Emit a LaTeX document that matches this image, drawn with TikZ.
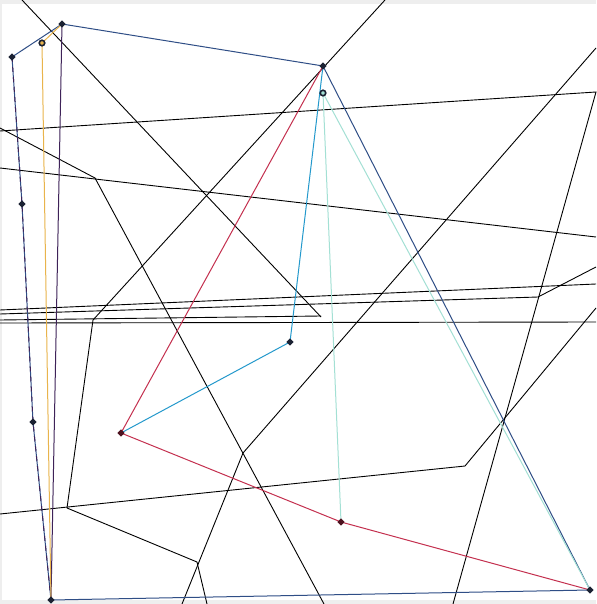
\documentclass[tikz,border=0pt]{standalone}
\usepackage{xcolor}
\usepackage{tikz}
\usetikzlibrary{shapes.geometric}
\definecolor{navy1}{HTML}{2F4E86}
\definecolor{purple1}{HTML}{3E2258}
\definecolor{gold1}{HTML}{E9B44C}
\definecolor{red1}{HTML}{C4304F}
\definecolor{cyan1}{HTML}{2499CC}
\definecolor{teal1}{HTML}{A3E0D4}
\definecolor{frame1}{HTML}{EEEEEE}
\definecolor{ink1}{HTML}{1B2233}

\begin{document}
\begin{tikzpicture}[
    x=1pt, y=-1pt,
    dot/.style={diamond, fill=ink1, inner sep=0pt, minimum size=7.5pt},
    ring/.style={circle, draw=ink1, line width=1.6pt, inner sep=0pt, minimum size=5.5pt},
    wire/.style={black, line width=0.9pt},
    link/.style={line width=1pt, line join=round},
]
\useasboundingbox (0,0) rectangle (596,604);
\fill[frame1] (0,0) rectangle (596,604);
\fill[white] (2,4) rectangle (596,600);

\draw[wire] (22,0) -- (321,317);
\draw[wire] (385,0) -- (93,320) -- (67,508) -- (197,562) -- (207,604);
\draw[wire] (0,514) -- (465,466) -- (596,308);
\draw[wire] (0,131) -- (596,92) -- (453,604);
\draw[wire] (0,168) -- (596,237);
\draw[wire] (0,128) -- (95,178) -- (324,604);
\draw[wire] (596,48) -- (243,453) -- (182,604);
\draw[wire] (0,310) -- (596,284);
\draw[wire] (0,314) -- (538,297) -- (596,267);
\draw[wire] (0,320) -- (321,316);
\draw[wire] (0,323) -- (596,322);

\coordinate (tl) at (12,57);
\coordinate (top) at (62,24);
\coordinate (gl) at (42,43);
\coordinate (apex) at (323,66);
\coordinate (tip) at (323,93);
\coordinate (l1) at (22,204);
\coordinate (l2) at (33,422);
\coordinate (bl) at (51,600);
\coordinate (mid) at (290,342);
\coordinate (rv) at (121,433);
\coordinate (rt) at (341,522);
\coordinate (br) at (590,590);

\draw[link, navy1] (tl) -- (top) -- (apex) -- (br) -- (bl) -- (l2) -- (l1) -- cycle;
\draw[link, purple1, dash pattern=on 5pt off 5pt] (tl) -- (l1) -- (l2) -- (bl);
\draw[link, purple1] (top) -- (bl);
\draw[link, gold1] (top) -- (gl) -- (bl);
\draw[link, red1] (apex) -- (rv) -- (rt) -- (br);
\draw[link, cyan1] (apex) -- (mid) -- (rv);
\draw[link, teal1] (rt) -- (tip) -- (br);

\foreach \p in {tl,top,apex,l1,l2,bl,mid,br}
  \node[dot] (d-\p) at (\p) {};
\node[dot, fill=red1!40!black] (d-rv) at (rv) {};
\node[dot, fill=red1!40!black] (d-rt) at (rt) {};
\node[ring, fill=gold1] (d-gl) at (gl) {};
\node[ring, fill=teal1] (d-tip) at (tip) {};
\end{tikzpicture}
\end{document}
